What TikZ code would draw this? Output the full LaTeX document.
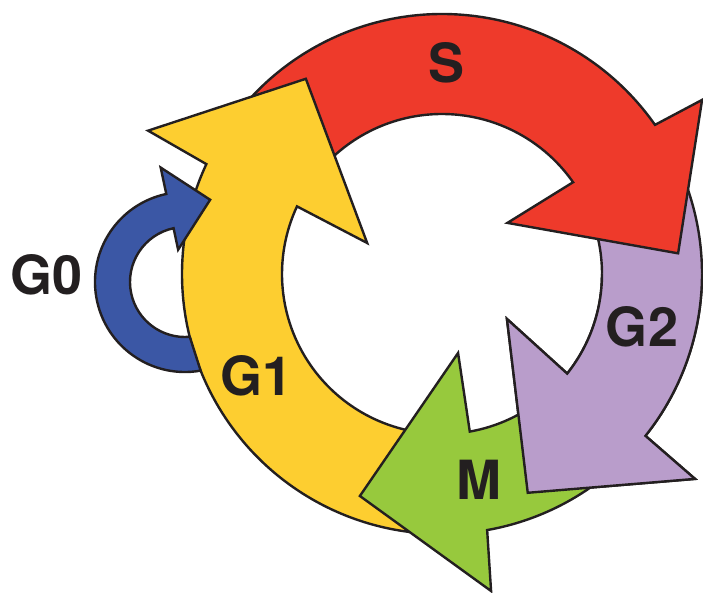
\documentclass[tikz,border=0pt]{standalone}
\usepackage{fontspec}
\setmainfont{TeX Gyre Heros}
\definecolor{cred}{RGB}{238,58,43}
\definecolor{cyellow}{RGB}{253,206,48}
\definecolor{cpurple}{RGB}{185,157,203}
\definecolor{cgreen}{RGB}{151,201,61}
\definecolor{cblue}{RGB}{59,87,165}
\definecolor{outline}{RGB}{35,31,32}
\tikzset{
  arrowshape/.style={draw=outline, line width=2.4pt, line join=miter, miter limit=20},
  lab/.style={font=\bfseries\fontsize{54}{54}\selectfont, text=outline, inner sep=0pt}
}
\begin{document}
\begin{tikzpicture}[x=1pt,y=1pt]
\useasboundingbox (0,0) rectangle (703,-593);
\begin{scope}[shift={(442,-274)}]
  % G2 (purple), first pass
  \path[arrowshape, fill=cpurple] (25:260pt) arc[start angle=25, end angle=-38.5, radius=260pt]
    -- (-39:325.6pt) -- (-68.6:235pt) -- (-34.7:79pt) -- (-38.5:160pt)
    arc[start angle=-38.5, end angle=25, radius=160pt] -- cycle;
  % S (red)
  \path[arrowshape, fill=cred] (145:260pt) arc[start angle=145, end angle=35, radius=260pt]
    -- (33.8:313pt) -- (5:237pt) -- (38:83pt) -- (35:160pt)
    arc[start angle=35, end angle=145, radius=160pt] -- cycle;
  % G1 (yellow)
  \path[arrowshape, fill=cyellow] (265:260pt) arc[start angle=265, end angle=155, radius=260pt]
    -- (154:327pt) -- (124.9:238pt) -- (157.5:81pt) -- (155:160pt)
    arc[start angle=155, end angle=265, radius=160pt] -- cycle;
  % M (green)
  \path[arrowshape, fill=cgreen] (-50:260pt) arc[start angle=-50, end angle=-80, radius=260pt]
    -- (-81.2:320.8pt) -- (-110.3:236.7pt) -- (-78.5:80.6pt) -- (-80:160pt)
    arc[start angle=-80, end angle=-50, radius=160pt] -- cycle;
  % G2 head again, above the green tail
  \begin{scope}
    \clip (0,0) -- (0:420pt) arc[start angle=0, end angle=-130, radius=420pt] -- cycle;
    \path[arrowshape, fill=cpurple] (25:260pt) arc[start angle=25, end angle=-38.5, radius=260pt]
      -- (-39:325.6pt) -- (-68.6:235pt) -- (-34.7:79pt) -- (-38.5:160pt)
      arc[start angle=-38.5, end angle=25, radius=160pt] -- cycle;
  \end{scope}
  % G0 (blue)
  \begin{scope}[shift={(-257,-8)}]
    \path[arrowshape, fill=cblue] (280:90pt) arc[start angle=280, end angle=102, radius=90pt]
      -- (102:117pt) -- (73:86pt) -- (102:33pt) -- (102:55pt)
      arc[start angle=102, end angle=275, radius=55pt] -- cycle;
  \end{scope}
\end{scope}
\node[lab] (labS)  at (447,-63)  {S};
\node[lab] (labG2) at (642,-327) {G2};
\node[lab] (labM)  at (479,-480) {M};
\node[lab] (labG1) at (257,-376) {G1};
\node[lab] (labG0) at (47,-275)  {G0};
\end{tikzpicture}
\end{document}
